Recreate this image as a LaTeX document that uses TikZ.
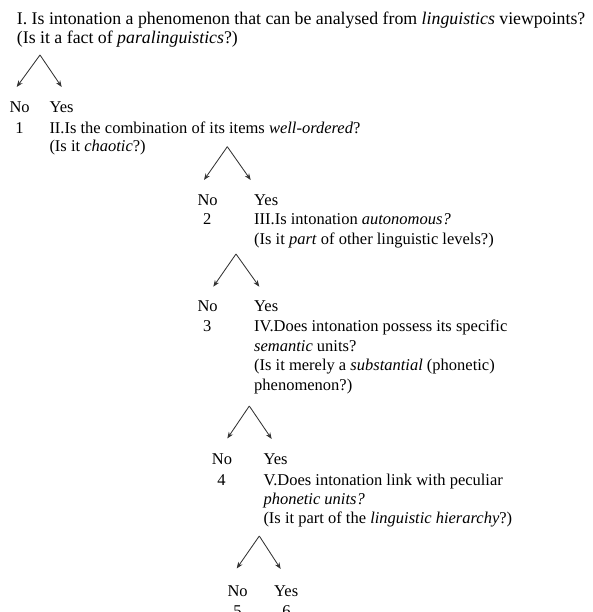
\documentclass[tikz,border=0pt]{standalone}
\usepackage{fontspec}
\setmainfont{Liberation Serif}
\usetikzlibrary{arrows.meta}
\begin{document}
\begin{tikzpicture}[x=1pt,y=-1pt,
  big/.style={anchor=base west,inner sep=0pt,font=\fontsize{17.8}{20}\selectfont},
  txt/.style={anchor=base west,inner sep=0pt,font=\fontsize{16.5}{19.5}\selectfont},
  num/.style={anchor=base,inner sep=0pt,font=\fontsize{16.5}{19.5}\selectfont},
  branch/.style={draw=black!80,line width=0.85pt,-{Stealth[length=6.5pt,width=5pt]}}]
\useasboundingbox (0,0) rectangle (592,612);
% Question I
\node[big] (q1a) at (16.7,25) {I. Is intonation a phenomenon that can be analysed from \textit{linguistics} viewpoints?};
\node[big] (q1b) at (16.7,43.3) {(Is it a fact of \textit{paralinguistics}?)};
% branch 1
\coordinate (a1) at (40,55);
\coordinate (l1) at (16.7,87);
\coordinate (r1) at (61.7,87);
\draw[branch] (a1) -- (l1);
\draw[branch] (a1) -- (r1);
\node[txt] (no1) at (9.3,112.7) {No};
\node[txt] (yes1) at (49.3,112.7) {Yes};
\node[num] (n1) at (19.5,133.3) {1};
\node[txt] (q2a) at (49.3,133.3) {II.Is the combination of its items \textit{well-ordered}?};
\node[txt] (q2b) at (49.3,152) {(Is it \textit{chaotic}?)};
% branch 2
\coordinate (a2) at (227.3,146.7);
\coordinate (l2) at (204,180);
\coordinate (r2) at (250.7,180);
\draw[branch] (a2) -- (l2);
\draw[branch] (a2) -- (r2);
\node[txt] (no2) at (197.3,205.5) {No};
\node[txt] (yes2) at (254,205.5) {Yes};
\node[num] (n2) at (207.3,225) {2};
\node[txt] (q3a) at (254,225) {III.Is intonation \textit{autonomous?}};
\node[txt] (q3b) at (254,244.5) {(Is it \textit{part} of other linguistic levels?)};
% branch 3
\coordinate (a3) at (236,254);
\coordinate (l3) at (213.3,286.7);
\coordinate (r3) at (259.3,286.7);
\draw[branch] (a3) -- (l3);
\draw[branch] (a3) -- (r3);
\node[txt] (no3) at (197.3,311.7) {No};
\node[txt] (yes3) at (254,311.7) {Yes};
\node[num] (n3) at (207.3,331.7) {3};
\node[txt] (q4a) at (254,331.7) {IV.Does intonation possess its specific};
\node[txt] (q4b) at (254,351.2) {\textit{semantic} units?};
\node[txt] (q4c) at (254,370.7) {(Is it merely a \textit{substantial} (phonetic)};
\node[txt] (q4d) at (254,390.2) {phenomenon?)};
% branch 4
\coordinate (a4) at (249.3,406);
\coordinate (l4) at (227.3,438.5);
\coordinate (r4) at (271.7,439);
\draw[branch] (a4) -- (l4);
\draw[branch] (a4) -- (r4);
\node[txt] (no4) at (211.7,464) {No};
\node[txt] (yes4) at (263.3,464) {Yes};
\node[num] (n4) at (221.5,485) {4};
\node[txt] (q5a) at (263.3,485) {V.Does intonation link with peculiar};
\node[txt] (q5b) at (263.3,504) {\textit{phonetic units?}};
\node[txt] (q5c) at (263.3,523.3) {(Is it part of the \textit{linguistic hierarchy}?)};
% branch 5
\coordinate (a5) at (259.3,536);
\coordinate (l5) at (236.7,568.5);
\coordinate (r5) at (280.7,569);
\draw[branch] (a5) -- (l5);
\draw[branch] (a5) -- (r5);
\node[txt] (no5) at (227.3,596) {No};
\node[txt] (yes5) at (274,596) {Yes};
\node[num] (n5) at (237.6,616) {5};
\node[num] (n6) at (286.5,616) {6};
\end{tikzpicture}
\end{document}
